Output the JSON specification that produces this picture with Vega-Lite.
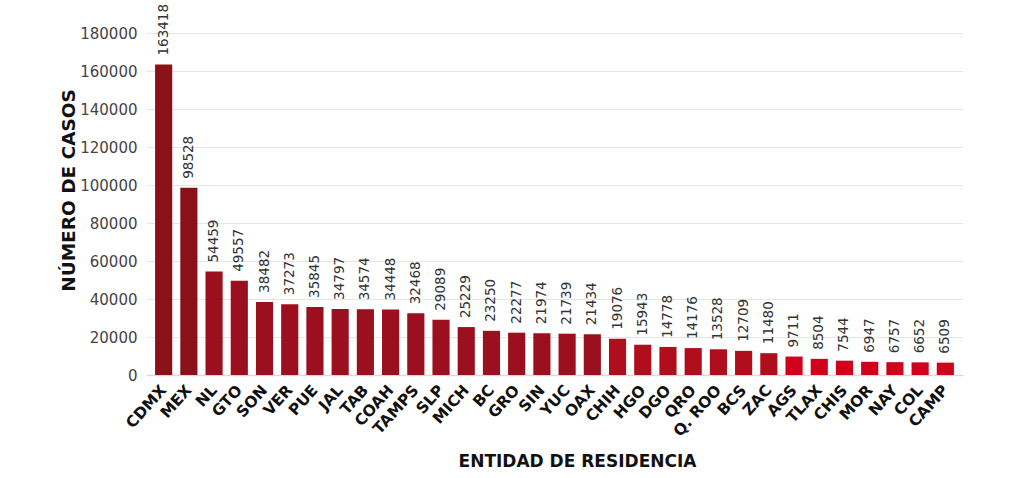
{
  "$schema": "https://vega.github.io/schema/vega-lite/v6.json",
  "width": 817,
  "height": 342,
  "autosize": {"type": "none"},
  "padding": {"left": 146, "top": 33, "right": 54, "bottom": 103},
  "background": "white",
  "data": {"values": [
    {"entidad": "CDMX", "casos": 163418},
    {"entidad": "MEX", "casos": 98528},
    {"entidad": "NL", "casos": 54459},
    {"entidad": "GTO", "casos": 49557},
    {"entidad": "SON", "casos": 38482},
    {"entidad": "VER", "casos": 37273},
    {"entidad": "PUE", "casos": 35845},
    {"entidad": "JAL", "casos": 34797},
    {"entidad": "TAB", "casos": 34574},
    {"entidad": "COAH", "casos": 34448},
    {"entidad": "TAMPS", "casos": 32468},
    {"entidad": "SLP", "casos": 29089},
    {"entidad": "MICH", "casos": 25229},
    {"entidad": "BC", "casos": 23250},
    {"entidad": "GRO", "casos": 22277},
    {"entidad": "SIN", "casos": 21974},
    {"entidad": "YUC", "casos": 21739},
    {"entidad": "OAX", "casos": 21434},
    {"entidad": "CHIH", "casos": 19076},
    {"entidad": "HGO", "casos": 15943},
    {"entidad": "DGO", "casos": 14778},
    {"entidad": "QRO", "casos": 14176},
    {"entidad": "Q. ROO", "casos": 13528},
    {"entidad": "BCS", "casos": 12709},
    {"entidad": "ZAC", "casos": 11480},
    {"entidad": "AGS", "casos": 9711},
    {"entidad": "TLAX", "casos": 8504},
    {"entidad": "CHIS", "casos": 7544},
    {"entidad": "MOR", "casos": 6947},
    {"entidad": "NAY", "casos": 6757},
    {"entidad": "COL", "casos": 6652},
    {"entidad": "CAMP", "casos": 6509}
  ]},
  "encoding": {
    "x": {
      "field": "entidad", "type": "nominal", "sort": null,
      "scale": {"paddingInner": 0.32, "paddingOuter": 0.36},
      "axis": {
        "title": "ENTIDAD DE RESIDENCIA",
        "titleFont": "DejaVu Sans", "titleFontSize": 17, "titleFontWeight": "bold", "titleColor": "#111111",
        "titlePadding": 14, "titleX": 431,
        "labelAngle": -48, "labelAlign": "right", "labelBaseline": "middle",
        "labelFont": "DejaVu Sans", "labelFontSize": 15.5, "labelFontWeight": "bold", "labelColor": "#111111",
        "labelPadding": 12,
        "ticks": false, "domainColor": "#d9d9d9", "domainWidth": 1.5, "grid": false
      }
    },
    "y": {
      "field": "casos", "type": "quantitative",
      "scale": {"domain": [0, 180000], "nice": false},
      "axis": {
        "title": "NÚMERO DE CASOS",
        "titleFont": "DejaVu Sans", "titleFontSize": 18.5, "titleFontWeight": "bold", "titleColor": "#111111",
        "titlePadding": 1, "titleY": 157,
        "values": [0, 20000, 40000, 60000, 80000, 100000, 120000, 140000, 160000, 180000],
        "format": "d",
        "labelFont": "DejaVu Sans", "labelFontSize": 15, "labelColor": "#444444", "labelPadding": 9,
        "ticks": false, "domain": false,
        "gridColor": "#e6e6e6", "gridWidth": 1
      }
    }
  },
  "layer": [
    {
      "mark": {"type": "bar"},
      "encoding": {
        "color": {
          "field": "casos", "type": "quantitative",
          "scale": {"type": "threshold", "domain": [10000, 20000, 90000], "range": ["#d0021b", "#b00e1d", "#9c0f1e", "#8a1118"]},
          "legend": null
        }
      }
    },
    {
      "mark": {"type": "text", "angle": 270, "align": "left", "baseline": "middle", "dx": 9, "font": "DejaVu Sans", "fontSize": 13.5, "color": "#333333"},
      "encoding": {"text": {"field": "casos", "type": "quantitative", "format": "d"}}
    }
  ],
  "config": {"view": {"stroke": null}}
}
